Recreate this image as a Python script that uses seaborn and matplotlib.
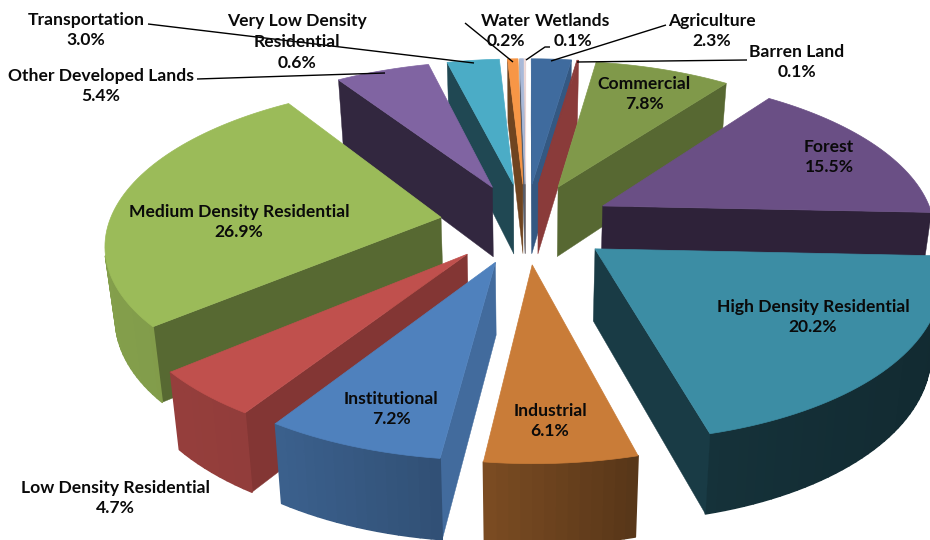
import numpy as np
import matplotlib
matplotlib.use("Agg")
import matplotlib.pyplot as plt
import seaborn as sns

categories = ["Agriculture", "Barren Land", "Commercial", "Forest", "High Density Residential",
              "Industrial", "Institutional", "Low Density Residential", "Medium Density Residential",
              "Other Developed Lands", "Transportation", "Very Low Density Residential", "Water", "Wetlands"]
values = [2.3, 0.1, 7.8, 15.5, 20.2, 6.1, 7.2, 4.7, 26.9, 5.4, 3.0, 0.6, 0.2, 0.1]
colors = ["#3f6b9e", "#8a3b3a", "#80994a", "#6a4f85", "#3c8da4", "#c97c38", "#4f81bd",
          "#c0504d", "#9bbb59", "#8064a2", "#4bacc6", "#f79646", "#a9b9d8", "#f2dcdb"]
side_shade = [.82, 1.0, .68, .43, .42, .6, .83, .68, .56, .39, .42, .45, .5, .6]
wall_left = [.8, .8, .6, .5, .38, .62, .75, .78, .85, .5, .5, .5, .6, .6]
wall_right = [.7, .7, .5, .4, .30, .44, .58, .70, .75, .4, .4, .4, .5, .5]

# (label, x, y, leader) in pixel-space layout
label_text = [
    ("Agriculture\n2.3%", 712, 31, [(666, 25), (551, 61)]),
    ("Barren Land\n0.1%", 797, 62, [(747, 60), (577, 62)]),
    ("Commercial\n7.8%", 644, 94, None),
    ("Forest\n15.5%", 829, 157, None),
    ("High Density Residential\n20.2%", 813, 317, None),
    ("Industrial\n6.1%", 550, 421, None),
    ("Institutional\n7.2%", 391, 409, None),
    ("Low Density Residential\n4.7%", 115, 498, None),
    ("Medium Density Residential\n26.9%", 239, 222, None),
    ("Other Developed Lands\n5.4%", 101, 86, [(197, 79), (385, 73)]),
    ("Transportation\n3.0%", 86, 30, [(148, 24), (474, 63)]),
    ("Very Low Density\nResidential\n0.6%", 297, 42, None),
    ("Water\n0.2%", 506, 31, [(465, 23), (513, 62)]),
    ("Wetlands\n0.1%", 573, 31, [(550, 47), (545, 47), (526, 60)]),
]

sns.set_theme(style="white")
plt.rcParams["font.family"] = ["Lato", "DejaVu Sans"]
palette = sns.color_palette(colors)

# projection of the exploded pie
cx, cy, s, q, p, e = 526.0, 223.0, 332.0, 155.0, 0.15, 0.26
h0, k = 71.0, 0.975


def project(u, v, bottom=False):
    w = 1.0 / (1.0 - p * v)
    x, y = s * u * w, q * v * w
    if bottom:
        return cx + k * x, cy + k * y + h0 * w
    return cx + x, cy + y


def shade(c, f):
    return tuple(min(1.0, f * t) for t in c)


def area(pts):
    a = np.asarray(pts)
    return 0.5 * np.sum(a[:, 0] * np.roll(a[:, 1], -1) - np.roll(a[:, 0], -1) * a[:, 1])


fig = plt.figure(figsize=(9.3, 5.4), dpi=100)
ax = fig.add_axes([0, 0, 1, 1])
ax.set_xlim(0, 930)
ax.set_ylim(540, 0)
ax.axis("off")

total = sum(values)
edges = np.concatenate([[0], np.cumsum(values)]) / total * 2 * np.pi
slices = []
for i, val in enumerate(values):
    a, b = edges[i], edges[i + 1]
    m = (a + b) / 2
    du, dv = e * np.sin(m), -e * np.cos(m)
    slices.append((dv, i, a, b, du))
slices.sort()

for dv, i, a, b, du in slices:
    n = max(3, int((b - a) / np.radians(1.5)))
    th = np.linspace(a, b, n)
    us = np.concatenate([[du], du + np.sin(th)])
    vs = np.concatenate([[dv], dv - np.cos(th)])
    top = [project(u, v) for u, v in zip(us, vs)]
    bot = [project(u, v, True) for u, v in zip(us, vs)]
    sgn = np.sign(area(top))
    c = palette[i]
    m_pts = len(top)
    xmin, xmax = min(pt[0] for pt in top), max(pt[0] for pt in top)
    for j in range(m_pts):
        j2 = (j + 1) % m_pts
        quad = [top[j], top[j2], bot[j2], bot[j]]
        if np.sign(area(quad)) == sgn:
            continue
        if j == 0 or j == m_pts - 1:
            col = shade(c, side_shade[i])
            lw = 0.3
        else:
            t = (top[j][0] - xmin) / (xmax - xmin)
            col = shade(c, wall_left[i] + (wall_right[i] - wall_left[i]) * t)
            lw = 1.2
        ax.fill(*zip(*quad), facecolor=col, edgecolor=col, lw=lw, zorder=2, joinstyle="round")
    ax.fill(*zip(*top), facecolor=c, edgecolor=c, lw=0.5, zorder=2)

for text, x, y, leader in label_text:
    if leader:
        ax.plot(*zip(*leader), color="black", lw=1.0, zorder=3, solid_capstyle="butt")
    ax.text(x, y, text, ha="center", va="center", fontsize=12.6, fontweight="bold",
            color="#0a0a0a", linespacing=1.38, zorder=4)

fig.savefig("out.png", dpi=100)
